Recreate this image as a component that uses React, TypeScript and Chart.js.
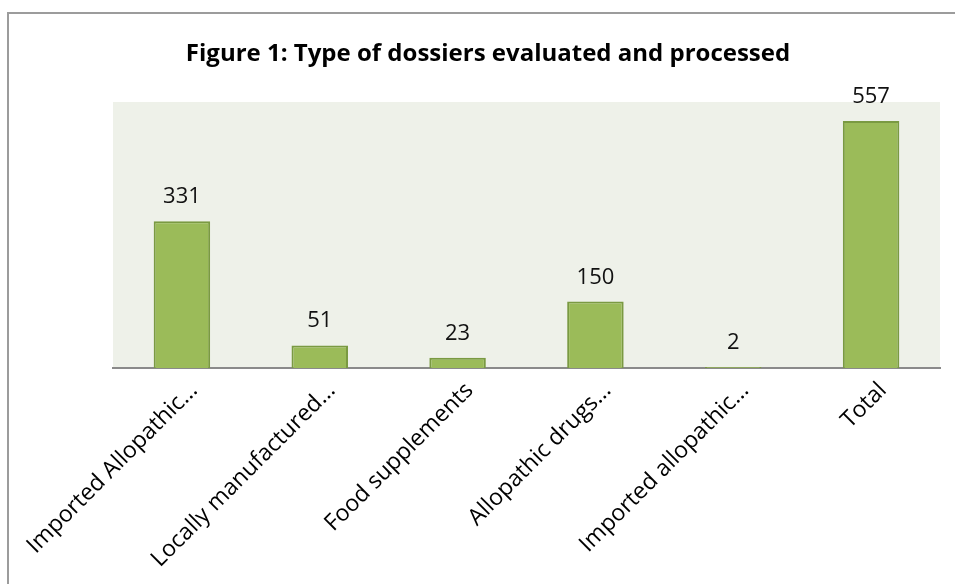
import React, { useEffect, useRef } from "react";
import { Chart, registerables } from "chart.js";

Chart.register(...registerables);

const categories = [
  "Imported Allopathic...",
  "Locally manufactured...",
  "Food supplements",
  "Allopathic drugs...",
  "Imported allopathic...",
  "Total",
];
const values = [331, 51, 23, 150, 2, 557];
const titleText = "Figure 1: Type of dossiers evaluated and processed";
const yMax = 600;

const FONT = "'Open Sans', 'Noto Sans', sans-serif";

const decorPlugin = {
  id: "decor",
  beforeDraw(chart: any) {
    const { ctx, chartArea } = chart;
    ctx.save();
    ctx.fillStyle = "#ffffff";
    ctx.fillRect(0, 0, chart.width, chart.height);
    ctx.fillStyle = "#EEF1E9";
    ctx.fillRect(chartArea.left, chartArea.top, chartArea.right - chartArea.left, chartArea.bottom - chartArea.top);
    // outer frame
    ctx.strokeStyle = "#9c9c9c";
    ctx.lineWidth = 2;
    ctx.beginPath();
    ctx.moveTo(8, chart.height + 2);
    ctx.lineTo(8, 13);
    ctx.lineTo(chart.width + 2, 13);
    ctx.stroke();
    // title
    ctx.fillStyle = "#000000";
    ctx.font = `bold 24px ${FONT}`;
    ctx.textAlign = "center";
    ctx.textBaseline = "alphabetic";
    ctx.fillText(titleText, 488, 61);
    ctx.restore();
  },
  afterDatasetsDraw(chart: any) {
    const { ctx } = chart;
    const meta = chart.getDatasetMeta(0);
    ctx.save();
    ctx.fillStyle = "#111111";
    ctx.font = `22px ${FONT}`;
    ctx.textAlign = "center";
    ctx.textBaseline = "alphabetic";
    meta.data.forEach((el: any, i: number) => {
      ctx.fillText(String(values[i]), el.x, el.y - 18);
    });
    ctx.restore();
  },
};

export default function App() {
  const ref = useRef<HTMLCanvasElement>(null);
  useEffect(() => {
    if (!ref.current) return;
    const chart = new Chart(ref.current, {
      type: "bar",
      data: {
        labels: categories,
        datasets: [
          {
            data: values,
            backgroundColor: "#9BBB59",
            borderColor: "#7A9A42",
            borderWidth: 2,
            categoryPercentage: 1,
            barPercentage: 0.41,
          },
        ],
      },
      options: {
        animation: false,
        responsive: false,
        maintainAspectRatio: false,
        layout: { padding: { left: 113, right: 15, top: 102, bottom: 0 } },
        plugins: { legend: { display: false }, tooltip: { enabled: false }, title: { display: false } },
        scales: {
          y: { display: false, min: 0, max: yMax },
          x: {
            grid: { display: false },
            border: { display: true, color: "#8a8a8a", width: 2 },
            ticks: {
              color: "#000000",
              font: { family: FONT, size: 23 },
              minRotation: 45,
              maxRotation: 45,
              autoSkip: false,
              labelOffset: 12,
              padding: 1,
            },
            afterFit(scale: any) {
              scale.height = 216;
            },
          },
        },
      },
      plugins: [decorPlugin],
    });
    return () => chart.destroy();
  }, []);
  return (
    <canvas
      ref={ref}
      width={955}
      height={584}
      style={{ position: "fixed", left: 0, top: 0, width: 955, height: 584 }}
    />
  );
}
